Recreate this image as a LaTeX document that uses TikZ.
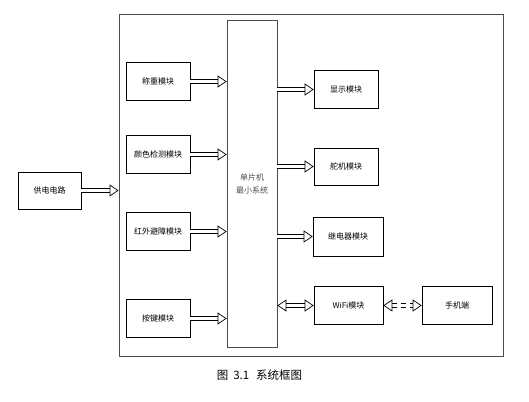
\documentclass[tikz,border=0pt]{standalone}
\usepackage{fontspec}
\setmainfont{Noto Sans CJK SC}
\usetikzlibrary{arrows.meta,positioning}

\tikzset{
  module/.style={draw, line width=0.6pt, minimum width=64pt, minimum height=38pt, inner sep=1pt, font=\fontsize{8}{10}\selectfont},
  fat/.style={double, double distance=3pt, line width=0.8pt, -{Triangle[open, length=9pt, width=12pt, line width=0.7pt]}},
  fatboth/.style={fat, {Triangle[open, length=9pt, width=12pt, line width=0.7pt]}-{Triangle[open, length=9pt, width=12pt, line width=0.7pt]}},
}

\begin{document}
\begin{tikzpicture}[x=1pt, y=-1pt]
    \useasboundingbox (0,0) rectangle (529,401);
    % Frame and controller
    \node[draw, gray!60!black, line width=0.9pt, minimum width=384pt, minimum height=342pt] (frame) at (311,185) {};
    \node[draw, gray!60!black, line width=0.7pt, minimum width=50pt, minimum height=327pt, align=center, font=\fontsize{8}{11}\selectfont] (mcu) at (252,183.5) {\raisebox{2pt}{单片机}\\最小系统};

    % Nodes
    \node[module, minimum width=63pt, minimum height=37pt] (power) at (49.5,190.5) {供电电路};
    \node[module] (weigh) at (158,81.5) {称重模块};
    \node[module] (color) at (158,154.5) {颜色检测模块};
    \node[module] (infra) at (158,231.5) {红外避障模块};
    \node[module] (keys) at (158,318.5) {按键模块};

    \node[module] (show) at (346,89.5) {显示模块};
    \node[module, minimum height=37pt] (servo) at (346,166.5) {舵机模块};
    \node[module, minimum width=70pt, minimum height=39pt] (relay) at (348,236.5) {继电器模块};
    \node[module, minimum width=69pt] (wifi) at (348.5,305.5) {WiFi模块};
    \node[module, minimum width=70pt] (phone) at (457,305.5) {手机端};

    % Edges
    \draw[fat] (power) -- (power -| frame.west);
    \draw[fat] (weigh) -- (weigh -| mcu.west);
    \draw[fat] (color) -- (color -| mcu.west);
    \draw[fat] (infra) -- (infra -| mcu.west);
    \draw[fat] (keys) -- (keys -| mcu.west);

    \draw[fat] (mcu.east |- show) -- (show);
    \draw[fat] (mcu.east |- servo) -- (servo);
    \draw[fat] (mcu.east |- relay) -- (relay);
    \draw[fatboth] (mcu.east |- wifi) -- (wifi);
    \draw[fatboth, dash pattern=on 5pt off 4pt] (wifi) -- (phone);

    % Caption
    \node[font=\fontsize{11.5}{13}\selectfont] (caption) at (259.5,375) {图\hspace{5pt}3.1\hspace{7pt}系统框图};
\end{tikzpicture}
\end{document}
